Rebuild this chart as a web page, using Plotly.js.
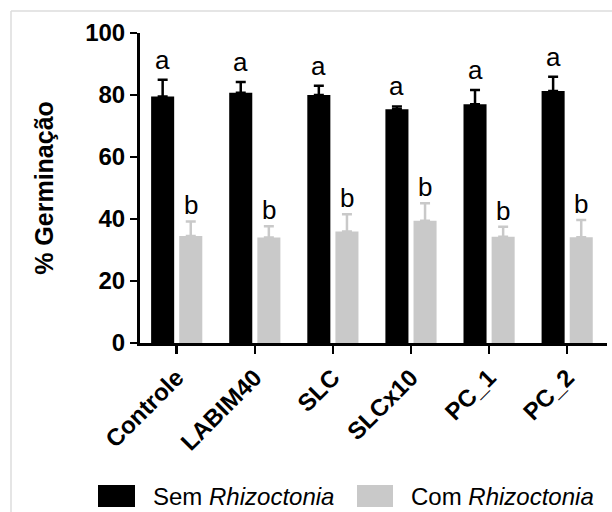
<!DOCTYPE html>
<html>
<head>
<meta charset="utf-8">
<script src="https://cdn.plot.ly/plotly-3.0.1.min.js"></script>
<style>
  html, body { margin: 0; padding: 0; background: #fff; }
</style>
</head>
<body>
<div id="chart" style="width:612px;height:512px"></div>
<script>
// Germination (%) per treatment, without and with Rhizoctonia (mean + SE, upward only)
const categories = ['Controle', 'LABIM40', 'SLC', 'SLCx10', 'PC_1', 'PC_2'];
const semMean = [79.5, 80.7, 80.0, 75.4, 77.0, 81.3];
const semErr  = [5.4, 3.5, 3.0, 0.9, 4.6, 4.6];
const comMean = [34.5, 34.0, 36.0, 39.4, 34.3, 34.1];
const comErr  = [4.7, 3.7, 5.5, 5.7, 3.2, 5.6];
const semLetters = ['a', 'a', 'a', 'a', 'a', 'a'];
const comLetters = ['b', 'b', 'b', 'b', 'b', 'b'];
const yTicks = [0, 20, 40, 60, 80, 100];

const FONT = 'Liberation Sans, Arial, Helvetica, sans-serif';
const BLACK = '#000000';
const GREY = '#c9c9c9';

const W = 612, H = 512;
const margin = { l: 140, r: 5, t: 33, b: 169, pad: 0 };
const xRange = [-0.47, 5.51];
const bargap = 0.28;

const zeros = categories.map(() => 0);

const traces = [
  {
    type: 'bar', name: 'Sem Rhizoctonia',
    x: categories, y: semMean,
    marker: { color: BLACK, line: { width: 0 } },
    error_y: { type: 'data', symmetric: false, array: semErr, arrayminus: zeros,
               color: BLACK, thickness: 2.5, width: 5 },
    showlegend: false, hoverinfo: 'skip'
  },
  {
    type: 'bar', name: 'Com Rhizoctonia',
    x: categories, y: comMean,
    marker: { color: GREY, line: { width: 0 } },
    error_y: { type: 'data', symmetric: false, array: comErr, arrayminus: zeros,
               color: GREY, thickness: 2.5, width: 5 },
    showlegend: false, hoverinfo: 'skip'
  }
];

// horizontal offset of each bar inside its group, in pixels
const plotW = W - margin.l - margin.r;
const pxPerCat = plotW / (xRange[1] - xRange[0]);
const barOffset = (1 - bargap) / 4 * pxPerCat;

const annotations = [];
categories.forEach((c, i) => {
  annotations.push({
    x: c, y: semMean[i] + semErr[i], xref: 'x', yref: 'y',
    text: semLetters[i], showarrow: false, xanchor: 'center', yanchor: 'bottom',
    xshift: -barOffset, yshift: 3,
    font: { family: FONT, size: 26, color: '#000' }
  });
  annotations.push({
    x: c, y: comMean[i] + comErr[i], xref: 'x', yref: 'y',
    text: comLetters[i], showarrow: false, xanchor: 'center', yanchor: 'bottom',
    xshift: barOffset, yshift: -1,
    font: { family: FONT, size: 26, color: '#000' }
  });
});

// legend drawn in paper coordinates so the swatches can be large
const plotH = H - margin.t - margin.b;
const px = v => (v - margin.l) / plotW;
const py = v => (H - margin.b - v) / plotH;

annotations.push(
  { xref: 'paper', yref: 'paper', x: px(151), y: py(496), xanchor: 'left', yanchor: 'middle',
    text: 'Sem <i>Rhizoctonia</i>', showarrow: false,
    font: { family: FONT, size: 24, color: '#000' } },
  { xref: 'paper', yref: 'paper', x: px(409), y: py(496), xanchor: 'left', yanchor: 'middle',
    text: 'Com <i>Rhizoctonia</i>', showarrow: false,
    font: { family: FONT, size: 24, color: '#000' } }
);

const shapes = [
  // thin frame along top and left
  { type: 'line', xref: 'paper', yref: 'paper', x0: px(11), x1: px(620), y0: py(11), y1: py(11),
    line: { color: '#dcdcdc', width: 1.5 }, layer: 'below' },
  { type: 'line', xref: 'paper', yref: 'paper', x0: px(11), x1: px(11), y0: py(11), y1: py(520),
    line: { color: '#dcdcdc', width: 1.5 }, layer: 'below' },
  // legend swatches
  { type: 'rect', xref: 'paper', yref: 'paper', x0: px(98), x1: px(135), y0: py(507), y1: py(485),
    fillcolor: BLACK, line: { width: 0 } },
  { type: 'rect', xref: 'paper', yref: 'paper', x0: px(357), x1: px(393), y0: py(507), y1: py(485),
    fillcolor: GREY, line: { width: 0 } }
];

const layout = {
  width: W, height: H, margin,
  paper_bgcolor: '#fff', plot_bgcolor: '#fff',
  barmode: 'group', bargap: bargap, bargroupgap: 0.18,
  showlegend: false,
  font: { family: FONT, color: '#000' },
  xaxis: {
    type: 'category', range: xRange, fixedrange: true,
    showline: true, linecolor: '#000', linewidth: 3,
    ticks: 'outside', ticklen: 8, tickwidth: 2.5, tickcolor: '#000',
    tickangle: -45, showgrid: false, zeroline: false,
    tickfont: { family: FONT, size: 24, color: '#000', weight: 'bold' }
  },
  yaxis: {
    range: [0, 100], tickvals: yTicks, fixedrange: true,
    showline: true, linecolor: '#000', linewidth: 3,
    ticks: 'outside', ticklen: 7, tickwidth: 2.5, tickcolor: '#000',
    showgrid: false, zeroline: false,
    tickfont: { family: FONT, size: 24, color: '#000', weight: 'bold' },
    title: { text: '% Germinação', standoff: 25,
             font: { family: FONT, size: 25, color: '#000', weight: 'bold' } }
  },
  annotations, shapes
};

Plotly.newPlot('chart', traces, layout, { staticPlot: true, displayModeBar: false });
</script>
</body>
</html>
